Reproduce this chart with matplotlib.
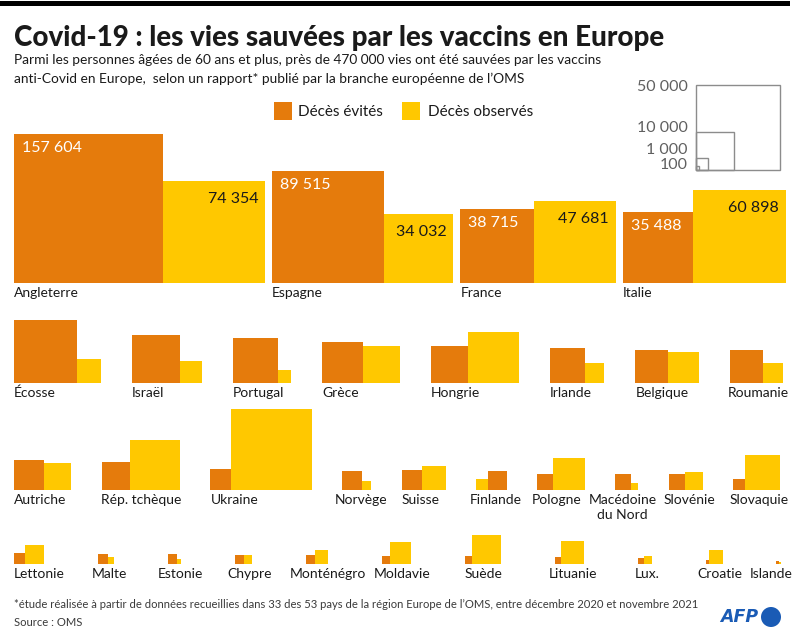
import numpy as np
import matplotlib
matplotlib.use("Agg")
import matplotlib.pyplot as plt
from matplotlib.patches import Rectangle, Circle

# ---- data (deaths averted / observed, people aged 60+) ----
countries = ["Angleterre", "Espagne", "France", "Italie",
             "Écosse", "Israël", "Portugal", "Grèce", "Hongrie", "Irlande", "Belgique", "Roumanie",
             "Autriche", "Rép. tchèque", "Ukraine", "Norvège", "Suisse", "Finlande", "Pologne",
             "Macédoine\ndu Nord", "Slovénie", "Slovaquie",
             "Lettonie", "Malte", "Estonie", "Chypre", "Monténégro", "Moldavie", "Suède",
             "Lituanie", "Lux.", "Croatie", "Islande"]
avoided = [157604, 89515, 38715, 35488,
           28200, 16400, 14400, 11950, 9840, 8560, 7740, 7740,
           6490, 5580, 3080, 2700, 2840, 2570, 1890, 1750, 1780, 940,
           860, 680, 615, 550, 550, 400, 410, 275, 240, 87, 64]
observed = [74354, 34032, 47681, 60898,
            4100, 3350, 1150, 9740, 18200, 2650, 6570, 2840,
            5180, 17900, 46100, 640, 4030, 940, 7060, 370, 2360, 8810,
            2510, 270, 125, 480, 1260, 3140, 5820, 3760, 455, 1240, 16]
row_sizes = [4, 8, 10, 11]
yellow_first = ["Finlande"]

scale_values = [50000, 10000, 1000, 100]
scale_labels = ["50 000", "10 000", "1 000", "100"]

ORANGE = "#E57B0C"
YELLOW = "#FFC800"
TXT = "#1a1a1a"
FONT = "Lato"

W, H = 800, 639
K = 0.375  # px per sqrt(death)


def side(v):
    return K * np.sqrt(v)


def fmt(v):
    return f"{v:,}".replace(",", " ")


fig = plt.figure(figsize=(W / 100, H / 100), dpi=100)
ax = fig.add_axes([0, 0, 1, 1])
ax.set_xlim(0, W)
ax.set_ylim(H, 0)
ax.axis("off")
renderer = fig.canvas.get_renderer()

# header
ax.add_patch(Rectangle((0, 1), 790, 5, color="black", lw=0))
ax.text(14, 38, "Covid-19 : les vies sauvées par les vaccins en Europe",
        family=FONT, fontsize=20, fontweight="black", color=TXT, va="center")
ax.text(14, 60, "Parmi les personnes âgées de 60 ans et plus, près de 470 000 vies ont été sauvées par les vaccins",
        family=FONT, fontsize=9.9, color=TXT, va="center")
ax.text(14, 79, "anti-Covid en Europe,  selon un rapport* publié par la branche européenne de l’OMS",
        family=FONT, fontsize=9.9, color=TXT, va="center")

# colour legend
ax.add_patch(Rectangle((274, 102), 18, 18, color=ORANGE, lw=0))
ax.text(298, 112, "Décès évités", family=FONT, fontsize=11, color=TXT, va="center")
ax.add_patch(Rectangle((402, 102), 18, 18, color=YELLOW, lw=0))
ax.text(428, 112, "Décès observés", family=FONT, fontsize=11, color=TXT, va="center")

# size legend
sx, sy = 695.7, 170
label_y = [87, 128, 150, 165]
for v, lab, ly in zip(scale_values, scale_labels, label_y):
    s = side(v) * 1.01
    ax.add_patch(Rectangle((sx, sy - s), s, s, fill=False, edgecolor="#8c8c8c", lw=1))
    ax.text(688, ly, lab, family=FONT, fontsize=11.5, color="#606060", ha="right", va="center")

# rows of squares
baselines = [283, 382.7, 490, 563.5]
row_right = [786, 783, 780, 781]
x_left = 14
start = 0
for r, n in enumerate(row_sizes):
    idx = list(range(start, start + n))
    start += n
    widths = [side(avoided[i]) + side(observed[i]) for i in idx]
    gap = (row_right[r] - x_left - sum(widths)) / (n - 1)
    base = baselines[r]
    x = x_left
    labels = []
    for i, gw in zip(idx, widths):
        so, sy_ = side(avoided[i]), side(observed[i])
        if countries[i] in yellow_first:
            ax.add_patch(Rectangle((x, base - sy_), sy_, sy_, color=YELLOW, lw=0))
            ax.add_patch(Rectangle((x + sy_, base - so), so, so, color=ORANGE, lw=0))
        else:
            ax.add_patch(Rectangle((x, base - so), so, so, color=ORANGE, lw=0))
            ax.add_patch(Rectangle((x + so, base - sy_), sy_, sy_, color=YELLOW, lw=0))
        if r == 0:
            ax.text(x + 8, base - so + 7, fmt(avoided[i]), family=FONT, fontsize=11.5,
                    color="white", va="top")
            ax.text(x + gw - 7, base - sy_ + 11, fmt(observed[i]), family=FONT, fontsize=11.5,
                    color=TXT, va="top", ha="right")
        t = ax.text(x, base + 4, countries[i], family=FONT, fontsize=10, color=TXT,
                    va="top", ha="left", multialignment="center", linespacing=1.3)
        tw = t.get_window_extent(renderer).width
        lx = x
        if tw > gw:
            lx = max(x_left, x - 0.3 * (tw - gw))
            lx = min(lx, 793 - tw)
        labels.append([t, lx, tw])
        x += gw + gap
    # push labels left so neighbours never touch
    for j in range(len(labels) - 2, -1, -1):
        t, lx, tw = labels[j]
        nxt = labels[j + 1][1]
        if lx + tw > nxt - 7:
            labels[j][1] = nxt - 7 - tw
    for t, lx, tw in labels:
        t.set_x(lx)

# footer
ax.text(14, 604, "*étude réalisée à partir de données recueillies dans 33 des 53 pays de la région Europe de l’OMS, entre décembre 2020 et novembre 2021",
        family=FONT, fontsize=8.1, color="#3a3a3a", va="center")
ax.text(14, 622, "Source : OMS", family=FONT, fontsize=8.1, color="#3a3a3a", va="center")

# AFP logo
ax.text(758, 617, "AFP", family="DejaVu Sans", fontsize=12.5, fontweight="bold", fontstyle="italic",
        color="#1a5bb5", ha="right", va="center")
ax.add_patch(Circle((771, 617), 10, color="#1a5bb5", lw=0))

fig.savefig("out.png", dpi=100)
